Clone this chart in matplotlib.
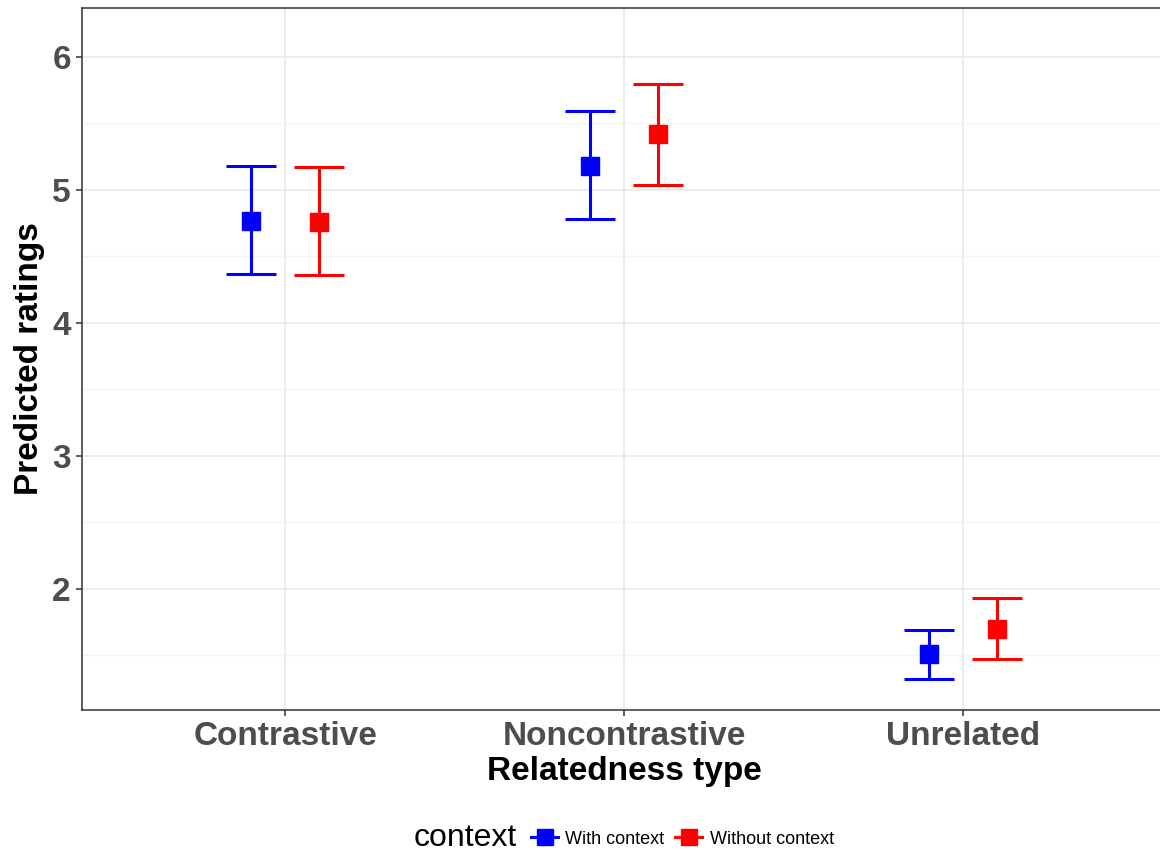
import matplotlib
matplotlib.use('Agg')
import matplotlib.pyplot as plt
from matplotlib.lines import Line2D
from matplotlib.ticker import MultipleLocator

plt.rcParams['font.family'] = ['Liberation Sans', 'DejaVu Sans']

# Model predictions with confidence intervals per relatedness type
categories = ["Contrastive", "Noncontrastive", "Unrelated"]
groups = ["With context", "Without context"]
colors = {"With context": "#0000FF", "Without context": "#FF0000"}

estimate = {
    "With context": [4.77, 5.18, 1.51],
    "Without context": [4.76, 5.42, 1.70],
}
lower = {
    "With context": [4.37, 4.78, 1.32],
    "Without context": [4.36, 5.04, 1.47],
}
upper = {
    "With context": [5.18, 5.59, 1.69],
    "Without context": [5.17, 5.80, 1.93],
}
dodge = {"With context": -0.1, "Without context": 0.1}

fig = plt.figure(figsize=(11.6, 8.52), dpi=100)
ax = fig.add_axes([82 / 1160, 1 - 710 / 852, (1166 - 82) / 1160, 702 / 852])

for g in groups:
    xs = [i + 1 + dodge[g] for i in range(len(categories))]
    ys = estimate[g]
    err = [[y - lo for y, lo in zip(ys, lower[g])],
           [hi - y for y, hi in zip(ys, upper[g])]]
    ax.errorbar(xs, ys, yerr=err, fmt='s', color=colors[g], ms=13.5,
                elinewidth=2.2, capsize=18, capthick=2.2, zorder=3)

ax.set_xlim(0.4, 3.6)
ax.set_ylim(1.09, 6.368)
ax.set_xticks([1, 2, 3])
ax.set_xticklabels(categories)
ax.yaxis.set_major_locator(MultipleLocator(1))
ax.yaxis.set_minor_locator(MultipleLocator(0.5))

ax.grid(True, which='major', color='#EBEBEB', lw=1.3)
ax.grid(True, which='minor', axis='y', color='#F3F3F3', lw=1.0)
ax.set_axisbelow(True)

for s in ax.spines.values():
    s.set_color('#333333')
    s.set_linewidth(1.1)

ax.tick_params(axis='both', which='major', length=4, width=1.1, color='#333333',
               labelsize=24, labelcolor='#4D4D4D', pad=4)
ax.tick_params(axis='y', which='minor', length=0)
for lab in ax.get_xticklabels() + ax.get_yticklabels():
    lab.set_fontweight('bold')

ax.set_xlabel("Relatedness type", fontsize=24, fontweight='bold', labelpad=3)
ax.set_ylabel("Predicted ratings", fontsize=24, fontweight='bold', labelpad=5)

handles = [Line2D([], [], color=colors[g], marker='s', ms=11, lw=2.2) for g in groups]
fig.text(465 / 1160, 1 - 838 / 852, "context", fontsize=23, ha='center', va='center')
fig.legend(handles, groups, ncol=2, loc='center left',
           bbox_to_anchor=(531 / 1160, 1 - 839 / 852), frameon=False, fontsize=13,
           handlelength=1.5, handletextpad=0.4, columnspacing=0.6, borderpad=0,
           borderaxespad=0)

fig.savefig("out.png", dpi=100)
